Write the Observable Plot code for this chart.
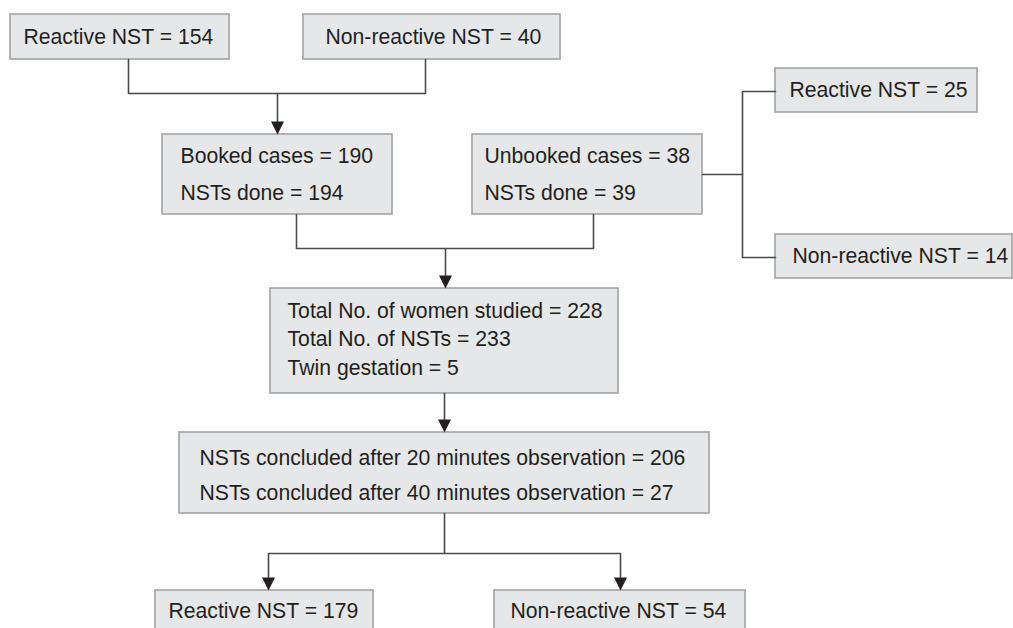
<!DOCTYPE html>
<html>
<head>
<meta charset="utf-8">
<script src="https://cdn.jsdelivr.net/npm/d3@7"></script>
<script src="https://cdn.jsdelivr.net/npm/@observablehq/plot@0.6"></script>
<style>
  html, body { margin: 0; padding: 0; background: #fff; overflow: hidden; }
  #chart svg { display: block; }
</style>
</head>
<body>
<div id="chart"></div>
<script>
// ---- Data (labels and counts) ----
const labels = [
  "Reactive NST", "Non-reactive NST",
  "Booked cases", "NSTs done",
  "Unbooked cases", "NSTs done",
  "Reactive NST", "Non-reactive NST",
  "Total No. of women studied", "Total No. of NSTs", "Twin gestation",
  "NSTs concluded after 20 minutes observation", "NSTs concluded after 40 minutes observation",
  "Reactive NST", "Non-reactive NST"
];
const counts = [154, 40, 190, 194, 38, 39, 25, 14, 228, 233, 5, 206, 27, 179, 54];
const lineBox = [0, 1, 2, 2, 3, 3, 4, 5, 6, 6, 6, 7, 7, 8, 9];
const lineRow = [0, 0, 0, 1, 0, 1, 0, 0, 0, 1, 2, 0, 1, 0, 0];

// ---- Layout (positions in pixel space) ----
const boxLayout = [
  {x1: 10,  y1: 14,  x2: 229,  y2: 59,  tx: 23,  ty: [37]},
  {x1: 303, y1: 14,  x2: 560,  y2: 59,  tx: 325, ty: [37]},
  {x1: 162, y1: 134, x2: 392,  y2: 214, tx: 180, ty: [156, 193]},
  {x1: 472, y1: 134, x2: 702,  y2: 214, tx: 484, ty: [156, 193]},
  {x1: 775, y1: 68,  x2: 977,  y2: 112, tx: 789, ty: [90]},
  {x1: 775, y1: 234, x2: 1012, y2: 278, tx: 792, ty: [256]},
  {x1: 270, y1: 288, x2: 618,  y2: 393, tx: 287, ty: [311, 339, 368]},
  {x1: 179, y1: 432, x2: 709,  y2: 513, tx: 199, ty: [458, 493]},
  {x1: 155, y1: 590, x2: 373,  y2: 650, tx: 168, ty: [611]},
  {x1: 494, y1: 590, x2: 745,  y2: 650, tx: 510, ty: [611]}
];
const connectors = [
  [[128, 59], [128, 93], [425, 93], [425, 59]],
  [[277, 93], [277, 125]],
  [[296, 214], [296, 248], [593, 248], [593, 214]],
  [[445, 248], [445, 280]],
  [[702, 174], [742, 174]],
  [[775, 91], [742, 91], [742, 257], [775, 257]],
  [[444, 393], [444, 424]],
  [[444, 513], [444, 553]],
  [[268, 582], [268, 553], [620, 553], [620, 582]]
];
const arrowTips = [[277, 134], [445, 288], [444, 432], [268, 590], [620, 590]];

// ---- Build tables ----
const textRows = labels.map((l, i) => {
  const b = boxLayout[lineBox[i]];
  return {text: `${l} = ${counts[i]}`, x: b.tx, y: b.ty[lineRow[i]]};
});
const connRows = connectors.flatMap((path, k) => path.map(([x, y]) => ({x, y, k})));
const arrowRows = arrowTips.map(([x, y]) => ({x, y}));

const downTriangle = {
  draw(context) {
    context.moveTo(-6.5, -13);
    context.lineTo(6.5, -13);
    context.lineTo(0, 0);
    context.closePath();
  }
};

const chart = Plot.plot({
  width: 1013,
  height: 628,
  margin: 0,
  x: {domain: [0, 1013], axis: null},
  y: {domain: [0, 628], range: [0, 628], axis: null},
  style: {background: "#fff", fontFamily: "'Liberation Sans', Arial, Helvetica, sans-serif"},
  marks: [
    Plot.rect(boxLayout, {
      x1: "x1", x2: "x2", y1: "y1", y2: "y2",
      fill: "#e6e7e8", stroke: "#a3a3a3", strokeWidth: 1.6, clip: true
    }),
    Plot.line(connRows, {x: "x", y: "y", z: "k", stroke: "#4a4a4a", strokeWidth: 1.6, curve: "linear"}),
    Plot.dot(arrowRows, {x: "x", y: "y", symbol: downTriangle, fill: "#231f20", stroke: "none", r: 6}),
    Plot.text(textRows, {
      x: "x", y: "y", text: "text", textAnchor: "start",
      fontSize: 21.2, fill: "#231f20", lineAnchor: "middle"
    })
  ]
});
document.getElementById("chart").appendChild(chart);
</script>
</body>
</html>
